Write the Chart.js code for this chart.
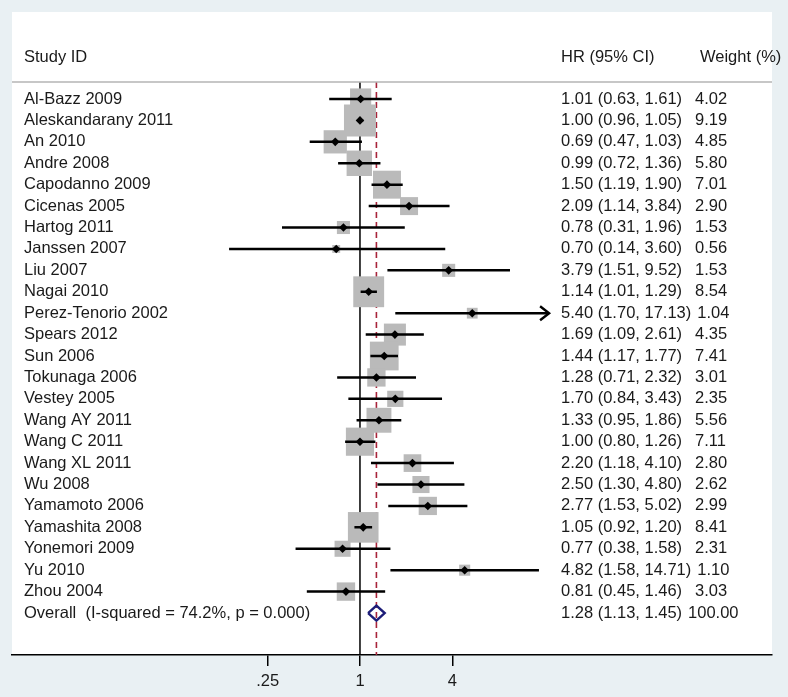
<!DOCTYPE html>
<html>
<head>
<meta charset="utf-8">
<script src="https://cdn.jsdelivr.net/npm/chart.js@4.4.1/dist/chart.umd.min.js"></script>
<style>
  html, body { margin: 0; padding: 0; background: #e9f0f3; }
  #wrap { width: 788px; height: 697px; }
</style>
</head>
<body>
<div id="wrap"><canvas id="chart" width="788" height="697"></canvas></div>
<script>
//DATOS DEL FOREST PLOT
var estudios = ['Al-Bazz 2009', 'Aleskandarany 2011', 'An 2010', 'Andre 2008', 'Capodanno 2009',
    'Cicenas 2005', 'Hartog 2011', 'Janssen 2007', 'Liu 2007', 'Nagai 2010', 'Perez-Tenorio 2002',
    'Spears 2012', 'Sun 2006', 'Tokunaga 2006', 'Vestey 2005', 'Wang AY 2011', 'Wang C 2011',
    'Wang XL 2011', 'Wu 2008', 'Yamamoto 2006', 'Yamashita 2008', 'Yonemori 2009', 'Yu 2010', 'Zhou 2004'];
var hr = [1.01, 1.00, 0.69, 0.99, 1.50, 2.09, 0.78, 0.70, 3.79, 1.14, 5.40, 1.69, 1.44, 1.28, 1.70,
    1.33, 1.00, 2.20, 2.50, 2.77, 1.05, 0.77, 4.82, 0.81];
var ciBajo = [0.63, 0.96, 0.47, 0.72, 1.19, 1.14, 0.31, 0.14, 1.51, 1.01, 1.70, 1.09, 1.17, 0.71, 0.84,
    0.95, 0.80, 1.18, 1.30, 1.53, 0.92, 0.38, 1.58, 0.45];
var ciAlto = [1.61, 1.05, 1.03, 1.36, 1.90, 3.84, 1.96, 3.60, 9.52, 1.29, 17.13, 2.61, 1.77, 2.32, 3.43,
    1.86, 1.26, 4.10, 4.80, 5.02, 1.20, 1.58, 14.71, 1.46];
var pesos = [4.02, 9.19, 4.85, 5.80, 7.01, 2.90, 1.53, 0.56, 1.53, 8.54, 1.04, 4.35, 7.41, 3.01, 2.35,
    5.56, 7.11, 2.80, 2.62, 2.99, 8.41, 2.31, 1.10, 3.03];

var globalEtiqueta = 'Overall  (I-squared = 74.2%, p = 0.000)';
var globalHR = 1.28;
var globalBajo = 1.13;
var globalAlto = 1.45;
var globalPeso = 100.00;

var ticksX = [0.25, 1, 4];
var ticksXEtiquetas = ['.25', '1', '4'];
var limiteFlecha = 16;

//ESTILOS
var fuente = '"Liberation Sans", Arial, sans-serif';
var tamFuente = 16.5;
var colorTexto = '#1a1a1a';
var filaGlobal = estudios.length;
var yMin = -0.794;
var yMax = 25.96;
var filaCabecera = -1.96;

function formatoHR(v, a, b) {
    return v.toFixed(2) + ' (' + a.toFixed(2) + ', ' + b.toFixed(2) + ')';
}

//CONSTRUIR DATASETS
var cajas = [];
var radios = [];
var puntos = [];
var lineasCI = [];
for (var i = 0; i < estudios.length; i++) {
    cajas.push({ x: hr[i], y: i });
    //area de la caja proporcional al peso
    radios.push(10.56 * Math.sqrt(pesos[i]) / Math.SQRT2);
    puntos.push({ x: hr[i], y: i });
    lineasCI.push({ x: ciBajo[i], y: i });
    lineasCI.push({ x: ciAlto[i], y: i });
    lineasCI.push({ x: ciAlto[i], y: null });
}
var rombo = [
    { x: globalBajo, y: filaGlobal },
    { x: globalHR, y: filaGlobal - 0.35 },
    { x: globalAlto, y: filaGlobal },
    { x: globalHR, y: filaGlobal + 0.35 },
    { x: globalBajo, y: filaGlobal }
];

//PLUGIN: PANEL BLANCO
var panel = {
    id: 'panel',
    beforeDraw: function (chart) {
        var ctx = chart.ctx;
        var a = chart.chartArea;
        ctx.save();
        ctx.fillStyle = '#ffffff';
        ctx.fillRect(a.left, 12, a.right - a.left, a.bottom - 12);
        ctx.restore();
    }
};

//PLUGIN: TEXTOS Y FLECHAS
var textos = {
    id: 'textos',
    afterDraw: function (chart) {
        var ctx = chart.ctx;
        var a = chart.chartArea;
        var sx = chart.scales.x;
        var sy = chart.scales.y;
        ctx.save();

        //linea de cabecera
        ctx.strokeStyle = '#b4b4b4';
        ctx.lineWidth = 1.5;
        ctx.beginPath();
        ctx.moveTo(a.left, a.top);
        ctx.lineTo(a.right, a.top);
        ctx.stroke();

        //flechas
        ctx.strokeStyle = '#000';
        ctx.lineWidth = 2.4;
        for (var i = 0; i < estudios.length; i++) {
            if (ciAlto[i] > limiteFlecha) {
                var px = sx.getPixelForValue(ciAlto[i]);
                var py = sy.getPixelForValue(i);
                ctx.beginPath();
                ctx.moveTo(px - 9, py - 7);
                ctx.lineTo(px, py);
                ctx.lineTo(px - 9, py + 7);
                ctx.stroke();
            }
        }

        ctx.font = tamFuente + 'px ' + fuente;
        ctx.fillStyle = colorTexto;
        ctx.textBaseline = 'middle';
        ctx.textAlign = 'left';

        var yc = sy.getPixelForValue(filaCabecera);
        ctx.fillText('Study ID', 24, yc);
        ctx.fillText('HR (95% CI)', 561, yc);
        ctx.fillText('Weight (%)', 700, yc);

        var xHR = 561;
        for (var i = 0; i < estudios.length; i++) {
            var y = sy.getPixelForValue(i);
            var t = formatoHR(hr[i], ciBajo[i], ciAlto[i]);
            ctx.fillText(estudios[i], 24, y);
            ctx.fillText(t, xHR, y);
            var fin = xHR + ctx.measureText(t).width;
            ctx.fillText(pesos[i].toFixed(2), Math.max(695, fin + 6), y);
        }
        var yg = sy.getPixelForValue(filaGlobal);
        ctx.fillText(globalEtiqueta, 24, yg);
        var tg = formatoHR(globalHR, globalBajo, globalAlto);
        ctx.fillText(tg, xHR, yg);
        ctx.fillText(globalPeso.toFixed(2), xHR + ctx.measureText(tg).width + 6, yg);
        ctx.restore();
    }
};

//CREAR GRAFICA
var ctx = document.getElementById('chart');
var miGrafica = new Chart(ctx, {
    type: 'scatter',
    data: {
        datasets: [
            {
                //cajas grises
                data: cajas,
                pointStyle: 'rect',
                pointRadius: radios,
                backgroundColor: '#bababa',
                borderWidth: 0,
                order: 5
            },
            {
                //intervalos de confianza
                data: lineasCI,
                showLine: true,
                spanGaps: false,
                borderColor: '#000',
                borderWidth: 2.5,
                pointRadius: 0,
                order: 3
            },
            {
                //estimacion puntual
                data: puntos,
                pointStyle: 'rectRot',
                pointRadius: 4.3,
                backgroundColor: '#000',
                borderWidth: 0,
                order: 2
            },
            {
                //rombo global
                data: rombo,
                showLine: true,
                borderColor: '#1d1d78',
                borderWidth: 2.4,
                pointRadius: 0,
                order: 1
            },
            {
                //linea de no efecto
                data: [{ x: 1, y: yMin }, { x: 1, y: yMax }],
                showLine: true,
                borderColor: '#000',
                borderWidth: 1.5,
                pointRadius: 0,
                order: 7
            },
            {
                //linea del efecto global
                data: [{ x: globalHR, y: yMin }, { x: globalHR, y: yMax }],
                showLine: true,
                borderColor: '#a8243a',
                borderWidth: 1.6,
                borderDash: [6, 4],
                pointRadius: 0,
                order: 6
            }
        ]
    },
    options: {
        responsive: false,
        animation: false,
        devicePixelRatio: 1,
        layout: { autoPadding: false, padding: { left: 12, right: 16, top: 82, bottom: 0 } },
        plugins: {
            legend: { display: false },
            tooltip: { enabled: false }
        },
        scales: {
            x: {
                type: 'logarithmic',
                min: 0.00537,
                max: 487.4,
                bounds: 'data',
                afterBuildTicks: function (scale) {
                    scale.ticks = ticksX.map(function (v) { return { value: v }; });
                },
                afterFit: function (scale) {
                    scale.height = 42;
                    scale.paddingLeft = 0;
                    scale.paddingRight = 0;
                },
                border: { display: true, color: '#000', width: 1.5 },
                grid: { drawOnChartArea: false, drawTicks: true, tickLength: 11, color: '#000', lineWidth: 1.5 },
                ticks: {
                    padding: 6,
                    color: colorTexto,
                    font: { family: fuente, size: tamFuente },
                    maxRotation: 0,
                    autoSkip: false,
                    callback: function (v) {
                        var k = ticksX.indexOf(v);
                        return k >= 0 ? ticksXEtiquetas[k] : '';
                    }
                }
            },
            y: {
                type: 'linear',
                reverse: true,
                min: yMin,
                max: yMax,
                bounds: 'data',
                display: false
            }
        }
    },
    plugins: [panel, textos]
});
</script>
</body>
</html>
